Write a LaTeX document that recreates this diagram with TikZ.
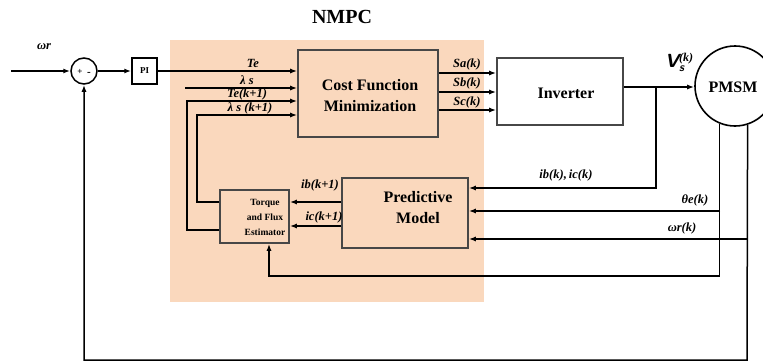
\documentclass[tikz,border=0pt]{standalone}
\usepackage{fontspec}
\setmainfont{Liberation Serif}
\usetikzlibrary{arrows.meta}
\definecolor{bgorange}{HTML}{FAD8BD}
\definecolor{boxline}{HTML}{474747}
\tikzset{
  blk/.style={draw=boxline, line width=1.6pt, inner sep=0pt},
  conn/.style={draw=black, line width=1.5pt},
  arr/.style={conn, -{Latex[length=7pt,width=5pt]}},
  lbl/.style={font=\fontsize{12.5}{14}\selectfont\bfseries\itshape, inner sep=0pt},
  big/.style={font=\fontsize{16}{19}\selectfont\bfseries, align=center, inner sep=0pt},
}
\begin{document}
\begin{tikzpicture}[x=1pt,y=-1pt]
\useasboundingbox (0,0) rectangle (763,364);
\fill[bgorange] (170,40) rectangle (484,302);
\node[font=\fontsize{20}{24}\selectfont\bfseries] (title) at (342,17) {NMPC};

% blocks
\node[circle, draw=black, line width=1.5pt, minimum size=26pt, inner sep=0pt] (sum) at (84,71) {};
\node[font=\fontsize{9}{10}\selectfont\bfseries, inner sep=0pt] (plus) at (80,72) {+};
\node[font=\fontsize{11}{10}\selectfont\bfseries, inner sep=0pt] (minus) at (89,74) {-};
\node[draw=black, line width=1.5pt, minimum width=25pt, minimum height=26pt, inner sep=0pt, font=\fontsize{9}{10}\selectfont\bfseries] (pi) at (144.5,71) {PI};
\node[blk, fill=bgorange, minimum width=140pt, minimum height=87pt] (cf) at (368,93.5) {};
\node[big] (cftext) at (370,96) {Cost Function\\[2pt]Minimization};
\node[blk, fill=white, minimum width=126pt, minimum height=67pt] (inv) at (560,91.5) {};
\node[big] (invtext) at (566,93) {Inverter};
\node[circle, draw=black, line width=1.6pt, minimum size=80pt, inner sep=0pt] (pmsm) at (735,86) {};
\node[big] (pmsmtext) at (733,87) {PMSM};
\node[blk, fill=bgorange, minimum width=126pt, minimum height=70pt] (pm) at (405,213) {};
\node[big] (pmtext) at (418,208) {Predictive\\[2pt]Model};
\node[blk, fill=bgorange, minimum width=69pt, minimum height=53pt] (tfe) at (254.5,216.5) {};
\node[font=\fontsize{9.5}{15}\selectfont\bfseries, align=center, inner sep=0pt] (tfetext) at (265,217) {Torque\\and Flux\\Estimator};

% coordinates
\coordinate (in) at (11,71);
\coordinate (ls) at (185,88);
\coordinate (y101) at (187,101);
\coordinate (y115) at (197,115);
\coordinate (y202) at (0,202);
\coordinate (y226) at (0,226);
\coordinate (y230) at (0,230);
\coordinate (s1) at (0,73);
\coordinate (s2) at (0,92);
\coordinate (s3) at (0,110);
\coordinate (vo) at (0,87);
\coordinate (b1) at (656,87);
\coordinate (b1y) at (0,188);
\coordinate (th) at (720,211);
\coordinate (wr) at (747,239);
\coordinate (t1) at (269,276);
\coordinate (c1) at (747,360);
\coordinate (c2) at (84,360);

% connectors
\draw[arr] (in) -- (sum.west);
\draw[arr] (sum.east) -- (pi.west);
\draw[arr] (pi.east) -- (cf.west |- pi.east);
\draw[arr] (ls) -- (cf.west |- ls);
\draw[arr] (tfe.west |- y230) -| (y101) -- (cf.west |- y101);
\draw[arr] (tfe.west |- y202) -| (y115) -- (cf.west |- y115);
\draw[arr] (cf.east |- s1) -- (inv.west |- s1);
\draw[arr] (cf.east |- s2) -- (inv.west |- s2);
\draw[arr] (cf.east |- s3) -- (inv.west |- s3);
\draw[arr] (inv.east |- vo) -- (pmsm.west |- vo);
\draw[arr] (b1) |- (pm.east |- b1y);
\draw[arr] (th) -- (pm.east |- th);
\draw[arr] (wr) -- (pm.east |- wr);
\draw[arr] (pmsm.-112) |- (t1) -- (tfe.south -| t1);
\draw[arr] (pmsm.-72.5) -- (c1) -- (c2) -- (sum.south);
\draw[arr] (pm.west |- y202) -- (tfe.east |- y202);
\draw[arr] (pm.west |- y226) -- (tfe.east |- y226);

% labels
\node[lbl] (lwr) at (44,47) {ωr};
\node[lbl] (lte) at (253,63) {Te};
\node[lbl] (lls) at (247,80) {λ s};
\node[lbl] (ltek) at (247,94) {Te(k+1)};
\node[lbl] (llsk) at (250,108) {λ s (k+1)};
\node[lbl] (lsa) at (467,64) {Sa(k)};
\node[lbl] (lsb) at (467,83) {Sb(k)};
\node[lbl] (lsc) at (467,102) {Sc(k)};
\node[inner sep=0pt, anchor=west] (lvs) at (665,62) {{\fontsize{19}{18}\selectfont\sffamily\bfseries\itshape V}{\fontsize{12}{12}\selectfont\bfseries\itshape\rlap{\raisebox{6pt}{(k)}}\raisebox{-4pt}{\sffamily s}}};
\node[lbl] (libc) at (566,175) {ib(k),\,ic(k)};
\node[lbl] (lth) at (695,200) {θe(k)};
\node[lbl] (lwrk) at (682,228) {ωr(k)};
\node[lbl] (libk) at (320,185) {ib(k+1)};
\node[lbl] (lick) at (324,217) {ic(k+1)};
\end{tikzpicture}
\end{document}
